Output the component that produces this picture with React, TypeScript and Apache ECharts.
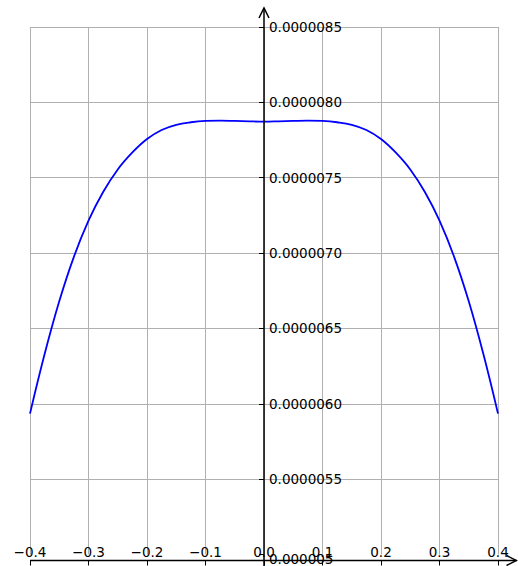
import React, { useEffect, useRef } from "react";
import * as echarts from "echarts";

// Sampled curve (x in the symmetric interval [-0.4, 0.4])
const xPoints = [
  -0.4, -0.375, -0.35, -0.325, -0.3, -0.275, -0.25, -0.225, -0.2, -0.175, -0.15,
  -0.125, -0.1, -0.075, -0.05, -0.025, 0, 0.025, 0.05, 0.075, 0.1, 0.125, 0.15,
  0.175, 0.2, 0.225, 0.25, 0.275, 0.3, 0.325, 0.35, 0.375, 0.4,
];
const yPoints = [
  5.935e-6, 6.33e-6, 6.68e-6, 6.975e-6, 7.215e-6, 7.405e-6, 7.555e-6, 7.668e-6, 7.757e-6,
  7.817e-6, 7.851e-6, 7.868e-6, 7.877e-6, 7.879e-6, 7.877e-6, 7.874e-6, 7.872e-6,
  7.874e-6, 7.877e-6, 7.879e-6, 7.877e-6, 7.868e-6, 7.851e-6, 7.817e-6, 7.757e-6,
  7.668e-6, 7.555e-6, 7.405e-6, 7.215e-6, 6.975e-6, 6.68e-6, 6.33e-6, 5.935e-6,
];

// Tick labels
const xTickLabels = ["−0.4", "−0.3", "−0.2", "−0.1", "0.0", "0.1", "0.2", "0.3", "0.4"];
const yTickLabels = [
  "0.000005", "0.0000055", "0.0000060", "0.0000065", "0.0000070",
  "0.0000075", "0.0000080", "0.0000085",
];

const X_MIN = -0.4;
const X_MAX = 0.4;
const X_STEP = 0.1;
const Y_MIN = 5e-6;
const Y_MAX = 8.5e-6;
const Y_STEP = 5e-7;

export default function App() {
  const ref = useRef<HTMLDivElement>(null);

  useEffect(() => {
    const el = ref.current!;
    const chart = echarts.init(el, null, { renderer: "svg" });
    const font = { fontFamily: "DejaVu Sans", fontSize: 13.5, color: "#000" };
    const gridColor = "#b0b0b0";

    chart.setOption({
      animation: false,
      backgroundColor: "#fff",
      grid: { left: 30, right: 20, top: 27, bottom: 10.5, containLabel: false },
      xAxis: {
        type: "value",
        min: X_MIN,
        max: X_MAX,
        interval: X_STEP,
        position: "bottom",
        offset: 6,
        axisLine: { show: false, onZero: false },
        axisTick: { show: true, inside: false, length: 5, lineStyle: { color: "#000", width: 1 } },
        axisLabel: {
          ...font,
          inside: true,
          margin: 2,
          showMinLabel: true,
          showMaxLabel: true,
          hideOverlap: false,
          formatter: (v: number) => xTickLabels[Math.round((v - X_MIN) / X_STEP)] ?? "",
        },
        splitLine: { show: true, lineStyle: { color: gridColor, width: 1 } },
      },
      yAxis: {
        type: "value",
        min: Y_MIN,
        max: Y_MAX,
        interval: Y_STEP,
        position: "left",
        offset: 0,
        axisLine: { show: false, onZero: false },
        axisTick: { show: true, inside: false, length: 5, lineStyle: { color: "#000", width: 1 } },
        axisLabel: {
          ...font,
          inside: true,
          margin: 5,
          showMinLabel: true,
          showMaxLabel: true,
          hideOverlap: false,
          formatter: (v: number) => {
            const i = Math.round((v - Y_MIN) / Y_STEP);
            const t = yTickLabels[i] ?? "";
            return i === 0 ? `{low|${t}}` : t;
          },
          rich: { low: { ...font, padding: [9, 0, 0, 0] } },
        },
        splitLine: { show: true, showMinLine: false, lineStyle: { color: gridColor, width: 1 } },
      },
      series: [
        {
          type: "line",
          data: xPoints.map((x, i) => [x, yPoints[i]]),
          showSymbol: false,
          smooth: 0.4,
          lineStyle: { color: "#0000ff", width: 1.8 },
          z: 3,
        },
      ],
    });

    // Vertical axis sits on x = 0: shift it inward from the grid's left edge
    const W = el.clientWidth;
    const H = el.clientHeight;
    const [ox, oyMin] = chart.convertToPixel({ gridIndex: 0 }, [0, Y_MIN]) as number[];
    const [leftX] = chart.convertToPixel({ gridIndex: 0 }, [X_MIN, Y_MIN]) as number[];
    const axisY = oyMin + 6;
    const tipX = W - 1.5;
    const tipY = 8;
    const lineStyle = { stroke: "#000", lineWidth: 1.5, fill: "none" };

    chart.setOption({
      yAxis: { offset: -(ox - leftX) },
      // Axis spines with open arrowheads
      graphic: [
        { type: "line", z: 10, shape: { x1: leftX, y1: axisY, x2: tipX, y2: axisY }, style: lineStyle },
        {
          type: "polyline",
          z: 10,
          shape: { points: [[tipX - 10, axisY - 5], [tipX, axisY], [tipX - 10, axisY + 5]] },
          style: lineStyle,
        },
        { type: "line", z: 10, shape: { x1: ox, y1: H, x2: ox, y2: tipY }, style: lineStyle },
        {
          type: "polyline",
          z: 10,
          shape: { points: [[ox - 5, tipY + 10], [ox, tipY], [ox + 5, tipY + 10]] },
          style: lineStyle,
        },
      ],
    });

    return () => chart.dispose();
  }, []);

  return (
    <div
      ref={ref}
      style={{ position: "absolute", left: 0, top: 0, width: 518, height: 566 }}
    />
  );
}
